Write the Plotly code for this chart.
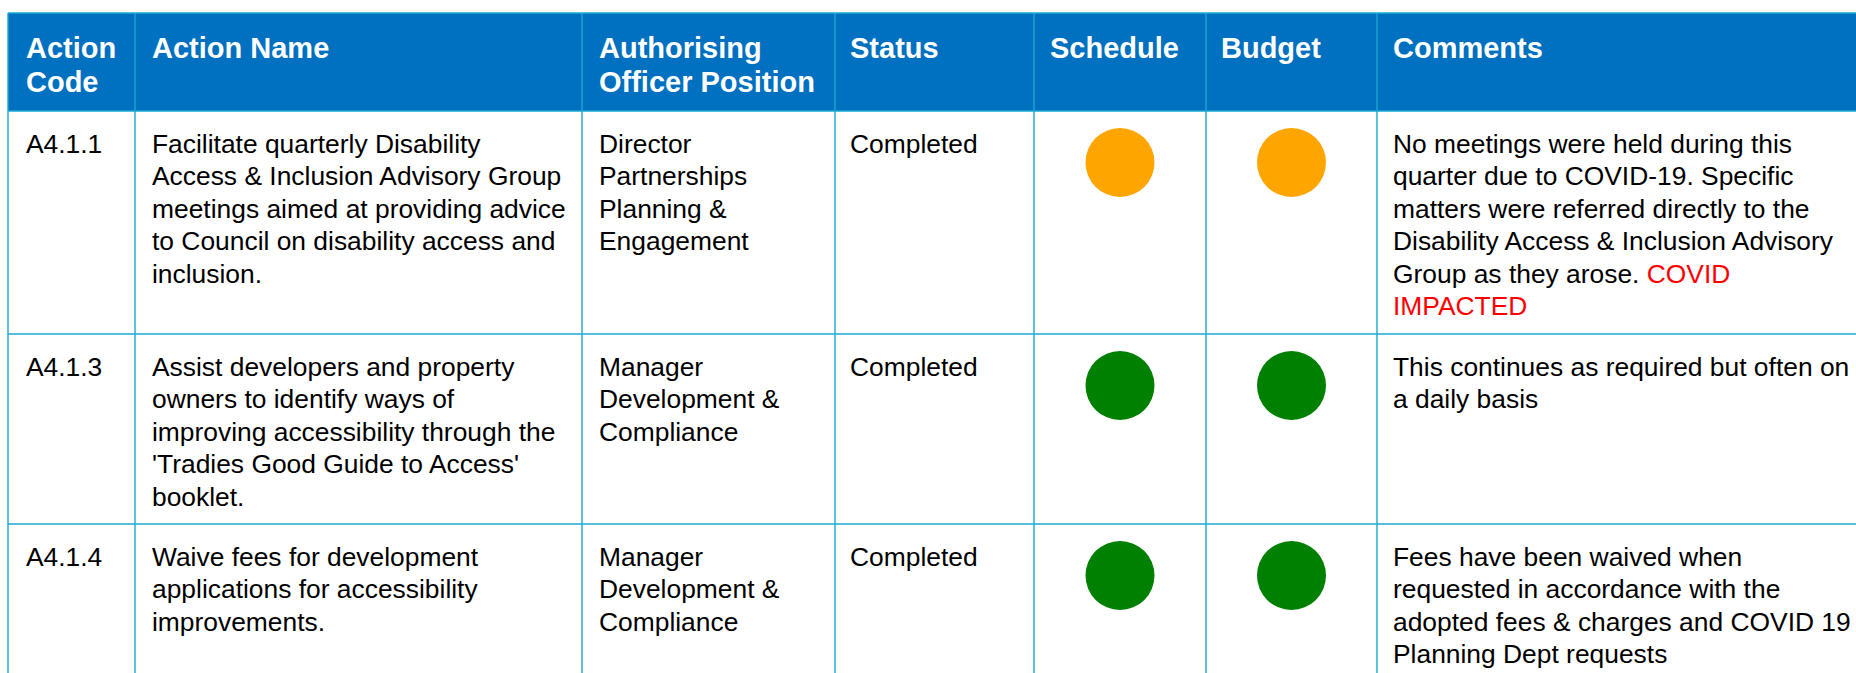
import plotly.graph_objects as go

# ---------------- data ----------------
headers = [["Action", "Code"], ["Action Name"], ["Authorising", "Officer Position"],
           ["Status"], ["Schedule"], ["Budget"], ["Comments"]]

action_codes = ["A4.1.1", "A4.1.3", "A4.1.4"]

action_names = [
    ["Facilitate quarterly Disability", "Access & Inclusion Advisory Group",
     "meetings aimed at providing advice", "to Council on disability access and", "inclusion."],
    ["Assist developers and property", "owners to identify ways of",
     "improving accessibility through the", "'Tradies Good Guide to Access'", "booklet."],
    ["Waive fees for development", "applications for accessibility", "improvements."],
]

officers = [
    ["Director", "Partnerships", "Planning &", "Engagement"],
    ["Manager", "Development &", "Compliance"],
    ["Manager", "Development &", "Compliance"],
]

statuses = ["Completed", "Completed", "Completed"]

schedule_rating = ["Amber", "Green", "Green"]
budget_rating = ["Amber", "Green", "Green"]

comments = [
    ["No meetings were held during this", "quarter due to COVID-19. Specific",
     "matters were referred directly to the", "Disability Access & Inclusion Advisory",
     "Group as they arose. <span style='color:#FF0000'>COVID</span>",
     "<span style='color:#FF0000'>IMPACTED</span>"],
    ["This continues as required but often on", "a daily basis"],
    ["Fees have been waived when", "requested in accordance with the",
     "adopted fees & charges and COVID 19", "Planning Dept requests"],
]

# ---------------- styling / layout constants ----------------
W, H = 1856, 673
rating_colors = {"Amber": "#FFA500", "Green": "#008000"}
HEADER_BLUE = "#0070C0"
GRID = "#18AAD2"
FONT = "Liberation Sans, Arial, Helvetica, sans-serif"
BODY_FS = 26.4
HEAD_FS = 29

col_edges = [8, 135, 582, 835, 1034, 1206, 1377, 1900]
text_x = [24.5, 150.5, 598, 849, 1049, 1220, 1392]
table_top = 13
header_bottom = 111
row_tops = [111, 334, 524]
row_bottoms = [334, 524, 700]

ASC, DESC = 0.905, 0.212


def center_from_baseline(b, fs):
    return b - (ASC - DESC) / 2 * fs


fig = go.Figure()

shapes = []
# header background
shapes.append(dict(type="rect", xref="x", yref="y", x0=col_edges[0], x1=col_edges[-1],
                   y0=table_top, y1=header_bottom, fillcolor=HEADER_BLUE, line_width=0, layer="below"))
# horizontal lines
for yv in [table_top, header_bottom] + row_bottoms[:-1]:
    shapes.append(dict(type="line", xref="x", yref="y", x0=col_edges[0], x1=col_edges[-1],
                       y0=yv, y1=yv, line=dict(color=GRID, width=1.4)))
# vertical lines
for xv in col_edges[:-1]:
    shapes.append(dict(type="line", xref="x", yref="y", x0=xv, x1=xv,
                       y0=table_top, y1=H + 30, line=dict(color=GRID, width=1.4)))

annotations = []


def add_text(x, baseline, text, fs, color, bold=False):
    annotations.append(dict(
        x=x, y=center_from_baseline(baseline, fs), xref="x", yref="y",
        text=("<b>%s</b>" % text) if bold else text,
        showarrow=False, xanchor="left", yanchor="middle", align="left",
        borderpad=0, font=dict(family=FONT, size=fs, color=color)))


# header text
for ci, lines in enumerate(headers):
    for li, t in enumerate(lines):
        add_text(text_x[ci], 58 + li * 34, t, HEAD_FS, "#FFFFFF", bold=True)

# body text
LINE = 32.5
for r in range(len(action_codes)):
    b0 = row_tops[r] + 42
    cells = [[action_codes[r]], action_names[r], officers[r], [statuses[r]], [], [], comments[r]]
    for ci, lines in enumerate(cells):
        for li, t in enumerate(lines):
            add_text(text_x[ci], b0 + li * LINE, t, BODY_FS, "#000000")

# rating circles
sched_x = (col_edges[4] + col_edges[5]) / 2
budg_x = (col_edges[5] + col_edges[6]) / 2
circle_y = [t + 51.5 for t in row_tops]
fig.add_trace(go.Scatter(x=[sched_x] * len(schedule_rating), y=circle_y, mode="markers",
                         marker=dict(size=69, color=[rating_colors[s] for s in schedule_rating],
                                     line=dict(width=0)),
                         hoverinfo="skip", showlegend=False))
fig.add_trace(go.Scatter(x=[budg_x] * len(budget_rating), y=circle_y, mode="markers",
                         marker=dict(size=69, color=[rating_colors[s] for s in budget_rating],
                                     line=dict(width=0)),
                         hoverinfo="skip", showlegend=False))

fig.update_layout(
    width=W, height=H, margin=dict(l=0, r=0, t=0, b=0),
    paper_bgcolor="white", plot_bgcolor="white",
    xaxis=dict(range=[0, W], visible=False, fixedrange=True),
    yaxis=dict(range=[H, 0], visible=False, fixedrange=True),
    shapes=shapes, annotations=annotations, showlegend=False,
)

fig.write_html("out.html", config={"displayModeBar": False},
               post_script="document.body.style.margin='0';document.body.style.overflow='hidden';")
